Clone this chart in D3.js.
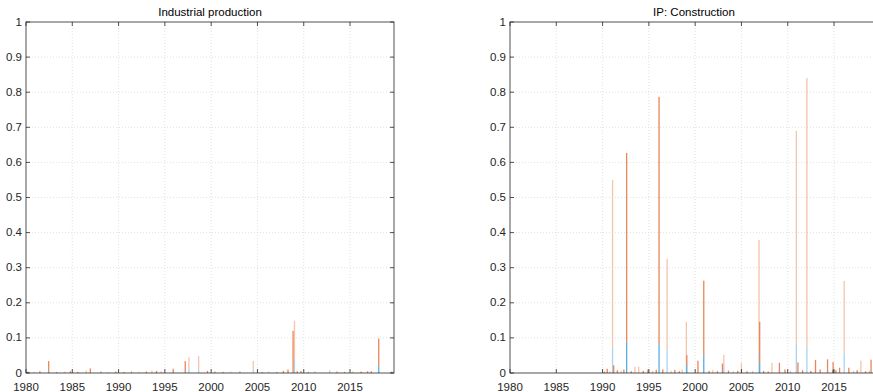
<!DOCTYPE html>
<html>
<head>
<meta charset="utf-8">
<script src="https://cdn.jsdelivr.net/npm/d3@7"></script>
<style>
  body { margin: 0; background: #fff; }
  svg { display: block; font-family: "Liberation Sans", Arial, sans-serif; }
</style>
</head>
<body>
<svg id="chart" width="873" height="392"></svg>
<script>
// Industrial production: monthly bars (date as decimal year), stacked dark / blue / orange
const ipDates  = [1982.45, 1986.5, 1986.95, 1995.9, 1997.2, 1997.6, 1998.65, 1999.6, 2004.55, 2007.8, 2008.3, 2008.85, 2009.0, 2009.3, 2012.8, 2017.3, 2018.1, 2019.5,
  1980.2, 1980.9, 1981.5, 1983.3, 1984.2, 1984.8, 1985.6, 1988.1, 1988.9, 1989.7, 1990.6, 1991.4, 1992.2, 1993.0, 1993.6, 1994.1, 1994.6,
  2000.4, 2001.3, 2002.1, 2003.1, 2005.5, 2006.2, 2007.1, 2009.7, 2010.5, 2011.2, 2013.6, 2014.4, 2015.3, 2016.2, 2016.9];
const ipDark   = [0, 0, 0, 0, 0, 0, 0, 0, 0, 0, 0, 0, 0, 0, 0, 0, 0, 0,
  0, 0, 0, 0, 0, 0, 0, 0, 0, 0, 0, 0, 0, 0, 0, 0, 0,
  0, 0, 0, 0, 0, 0, 0, 0, 0, 0, 0, 0, 0, 0, 0];
const ipBlue   = [0.005, 0, 0, 0, 0, 0.012, 0.009, 0, 0.01, 0, 0, 0, 0.039, 0, 0, 0, 0.02, 0,
  0, 0, 0, 0, 0, 0, 0, 0, 0, 0, 0, 0, 0, 0, 0, 0, 0,
  0, 0, 0, 0, 0, 0, 0, 0, 0, 0, 0, 0, 0, 0, 0];
const ipOrange = [0.029, 0.007, 0.013, 0.012, 0.034, 0.033, 0.039, 0.006, 0.024, 0.006, 0.01, 0.12, 0.11, 0.005, 0.008, 0.005, 0.078, 0.004,
  0.004, 0.003, 0.005, 0.003, 0.004, 0.005, 0.003, 0.004, 0.003, 0.004, 0.003, 0.004, 0.003, 0.004, 0.007, 0.006, 0.005,
  0.004, 0.003, 0.004, 0.004, 0.003, 0.004, 0.003, 0.006, 0.003, 0.005, 0.004, 0.003, 0.004, 0.004, 0.005];
const ipLight  = [0, 1, 0, 0, 0, 1, 1, 0, 1, 0, 0, 0, 1, 0, 1, 0, 0, 0,
  0, 1, 0, 0, 1, 0, 0, 0, 1, 0, 0, 0, 1, 0, 1, 0, 1,
  0, 0, 1, 0, 0, 1, 0, 0, 0, 1, 0, 0, 1, 0, 0];

// IP: Construction
const cnDates  = [1991.08, 1991.2, 1992.6, 1993.5, 1996.1, 1996.97, 1999.05, 1999.1, 2000.3, 2000.93, 2002.95, 2003.1, 2005.0, 2006.9, 2006.97, 2008.3, 2009.1,
  2010.93, 2011.1, 2012.07, 2013.0, 2014.3, 2014.9, 2015.6, 2016.1, 2016.6, 2017.9, 2019.0,
  1990.2, 1990.5, 1990.8, 1991.6, 1992.0, 1992.3, 1993.1, 1993.9, 1994.4, 1994.9, 1995.4, 1995.8, 1996.5, 1997.4, 1997.8, 1998.3, 1998.6,
  2001.5, 2001.9, 2002.4, 2003.6, 2004.1, 2004.6, 2005.6, 2006.2, 2007.4, 2007.9, 2009.7, 2010.3, 2011.6, 2012.5, 2013.5, 2015.2, 2017.1, 2017.5, 2018.4, 2018.8, 2019.4];
const cnDark   = [0, 0, 0, 0, 0, 0, 0, 0, 0, 0, 0, 0, 0, 0, 0, 0, 0,
  0, 0, 0, 0, 0, 0.01, 0, 0, 0, 0, 0,
  0, 0, 0, 0, 0, 0, 0, 0, 0, 0, 0, 0, 0, 0, 0, 0, 0,
  0, 0, 0, 0, 0, 0, 0, 0, 0, 0, 0, 0, 0, 0, 0, 0, 0, 0, 0, 0, 0];
const cnBlue   = [0.072, 0, 0.089, 0, 0.082, 0.065, 0.032, 0.02, 0, 0.051, 0, 0.017, 0, 0.061, 0.026, 0, 0,
  0.083, 0, 0.075, 0, 0, 0, 0, 0.056, 0, 0, 0,
  0, 0, 0, 0, 0, 0, 0, 0, 0, 0, 0, 0, 0, 0, 0, 0, 0,
  0, 0, 0, 0, 0, 0, 0, 0, 0, 0, 0, 0, 0, 0, 0, 0, 0, 0, 0, 0, 0];
const cnOrange = [0.478, 0.022, 0.538, 0.018, 0.705, 0.26, 0.114, 0.031, 0.035, 0.212, 0.027, 0.035, 0.029, 0.318, 0.12, 0.029, 0.029,
  0.607, 0.03, 0.765, 0.037, 0.039, 0.021, 0.015, 0.206, 0.015, 0.035, 0.038,
  0.004, 0.012, 0.005, 0.008, 0.006, 0.01, 0.005, 0.018, 0.006, 0.01, 0.006, 0.009, 0.01, 0.006, 0.009, 0.005, 0.01,
  0.006, 0.008, 0.005, 0.007, 0.005, 0.006, 0.005, 0.006, 0.006, 0.004, 0.01, 0.006, 0.008, 0.006, 0.01, 0.008, 0.006, 0.008, 0.005, 0.007, 0.005];
const cnLight  = [1, 0, 0, 1, 0, 1, 1, 0, 0, 0, 0, 1, 1, 1, 0, 1, 0,
  1, 0, 1, 0, 0, 0, 0, 1, 0, 1, 0,
  0, 0, 1, 0, 1, 0, 0, 1, 0, 0, 1, 0, 0, 1, 0, 0, 1,
  0, 1, 0, 0, 1, 0, 0, 1, 0, 0, 0, 1, 0, 0, 0, 0, 1, 0, 0, 1, 0];

const xTicks = [1980, 1985, 1990, 1995, 2000, 2005, 2010, 2015];
const yTicks = [0, 0.1, 0.2, 0.3, 0.4, 0.5, 0.6, 0.7, 0.8, 0.9, 1];

const svg = d3.select("#chart");
const plotTop = 22, plotBottom = 373, plotW = 368;

const colors = {
  dark:   ["#404040", "#404040"],
  blue:   ["#5aade2", "#a9d4ef"],
  orange: ["#ea8657", "#f5c4aa"]
};

function panel(x0, title, dates, dark, blue, orange, light) {
  const x = d3.scaleLinear().domain([1980, 2019.75]).range([x0, x0 + plotW]);
  const y = d3.scaleLinear().domain([0, 1]).range([plotBottom, plotTop]);
  const g = svg.append("g");

  // grid
  g.selectAll("line.gx").data(xTicks.slice(1)).enter().append("line")
    .attr("x1", d => x(d)).attr("x2", d => x(d))
    .attr("y1", plotTop).attr("y2", plotBottom)
    .attr("stroke", "#d4d4d4").attr("stroke-width", 0.7).attr("stroke-dasharray", "1,2");
  g.selectAll("line.gy").data(yTicks.slice(1, -1)).enter().append("line")
    .attr("x1", x0).attr("x2", x0 + plotW)
    .attr("y1", d => y(d)).attr("y2", d => y(d))
    .attr("stroke", "#d4d4d4").attr("stroke-width", 0.7).attr("stroke-dasharray", "1,2");

  const rows = dates.map((d, i) => ({ date: d, dark: dark[i], blue: blue[i], orange: orange[i], light: light[i] }));
  // light bars first, normal bars on top
  rows.sort((a, b) => b.light - a.light);
  const stack = d3.stack().keys(["dark", "blue", "orange"]);
  const series = stack(rows);
  const bw = 1.3;

  series.forEach(s => {
    g.selectAll(null).data(s.filter(d => d[1] > d[0])).enter().append("rect")
      .attr("x", d => x(d.data.date) - bw / 2)
      .attr("y", d => y(d[1]))
      .attr("width", bw)
      .attr("height", d => y(d[0]) - y(d[1]))
      .attr("fill", d => colors[s.key][d.data.light]);
  });

  // box
  g.append("rect")
    .attr("x", x0).attr("y", plotTop).attr("width", plotW).attr("height", plotBottom - plotTop)
    .attr("fill", "none").attr("stroke", "#262626").attr("stroke-width", 0.8);

  // ticks inside
  xTicks.forEach(t => {
    g.append("line").attr("x1", x(t)).attr("x2", x(t)).attr("y1", plotBottom).attr("y2", plotBottom - 4)
      .attr("stroke", "#262626").attr("stroke-width", 0.8);
    g.append("line").attr("x1", x(t)).attr("x2", x(t)).attr("y1", plotTop).attr("y2", plotTop + 4)
      .attr("stroke", "#262626").attr("stroke-width", 0.8);
  });
  yTicks.forEach(t => {
    g.append("line").attr("x1", x0).attr("x2", x0 + 4).attr("y1", y(t)).attr("y2", y(t))
      .attr("stroke", "#262626").attr("stroke-width", 0.8);
    g.append("line").attr("x1", x0 + plotW).attr("x2", x0 + plotW - 4).attr("y1", y(t)).attr("y2", y(t))
      .attr("stroke", "#262626").attr("stroke-width", 0.8);
  });

  // tick labels
  g.selectAll("text.xl").data(xTicks).enter().append("text")
    .attr("x", d => x(d)).attr("y", 391)
    .attr("text-anchor", "middle").attr("font-size", 11.5).attr("fill", "#262626")
    .text(d => d);
  g.selectAll("text.yl").data(yTicks).enter().append("text")
    .attr("x", x0 - 4).attr("y", d => y(d) + 3.5)
    .attr("text-anchor", "end").attr("font-size", 11.5).attr("fill", "#262626")
    .text(d => d3.format("~g")(d));

  // title
  g.append("text")
    .attr("x", x0 + plotW / 2).attr("y", 16)
    .attr("text-anchor", "middle").attr("font-size", 11.5).attr("fill", "#000")
    .text(title);
}

panel(26, "Industrial production", ipDates, ipDark, ipBlue, ipOrange, ipLight);
panel(510, "IP: Construction", cnDates, cnDark, cnBlue, cnOrange, cnLight);
</script>
</body>
</html>
